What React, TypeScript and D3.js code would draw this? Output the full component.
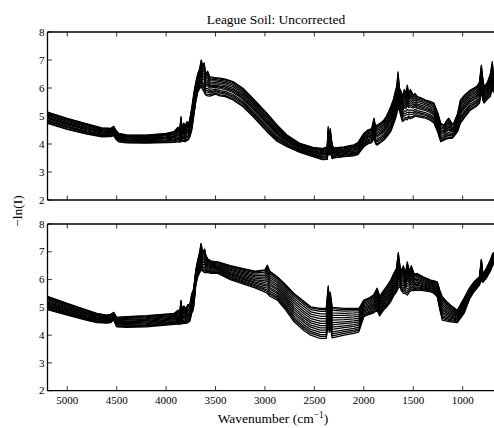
import React from "react";
import * as d3 from "d3";

// ---------- data ----------
const TITLE = "League Soil: Uncorrected";
const X_TICKS = [5000, 4500, 4000, 3500, 3000, 2500, 2000, 1500, 1000];
const Y_TICKS = [2, 3, 4, 5, 6, 7, 8];

// Top panel: wavenumber grid, upper and lower edge of the spectra bundle
const TOP_WN = [5200, 5000, 4800, 4650, 4560, 4530, 4510, 4480, 4400, 4200, 4000, 3920, 3880, 3860, 3850, 3840, 3820, 3810, 3790, 3775, 3760, 3740, 3720, 3700, 3680, 3660, 3645, 3630, 3615, 3600, 3580, 3556, 3500, 3455, 3400, 3323, 3222, 3121, 2980, 2878, 2777, 2646, 2514, 2420, 2370, 2360, 2350, 2340, 2320, 2300, 2200, 2100, 2060, 2000, 1960, 1920, 1897, 1880, 1867, 1830, 1796, 1770, 1728, 1700, 1680, 1665, 1654, 1640, 1625, 1610, 1590, 1575, 1560, 1545, 1530, 1500, 1480, 1459, 1420, 1374, 1330, 1290, 1250, 1222, 1189, 1160, 1140, 1110, 1090, 1050, 1023, 980, 922, 860, 830, 811, 795, 784, 750, 720, 700, 690, 650, 600];
const TOP_UPPER = [5.14, 4.92, 4.72, 4.58, 4.56, 4.63, 4.50, 4.38, 4.33, 4.32, 4.38, 4.44, 4.60, 4.55, 4.98, 4.60, 4.75, 4.60, 4.80, 4.70, 4.90, 5.30, 5.80, 6.20, 6.50, 6.70, 7.00, 6.80, 6.90, 6.50, 6.60, 6.40, 6.37, 6.35, 6.32, 6.23, 5.99, 5.63, 5.10, 4.68, 4.32, 4.02, 3.88, 3.84, 3.90, 4.62, 4.20, 4.55, 3.95, 3.86, 3.90, 3.97, 4.05, 4.38, 4.50, 4.55, 4.92, 4.60, 4.68, 4.75, 4.86, 5.00, 5.33, 5.60, 5.90, 6.10, 6.58, 6.00, 5.90, 5.69, 5.95, 5.80, 6.10, 5.80, 5.95, 5.75, 5.80, 5.69, 5.65, 5.57, 5.52, 5.46, 5.10, 4.74, 4.68, 4.85, 4.92, 4.75, 4.74, 5.10, 5.57, 5.75, 5.93, 6.05, 6.20, 6.82, 6.30, 6.05, 6.20, 6.50, 6.94, 6.50, 6.60, 6.70];
const TOP_LOWER = [4.74, 4.52, 4.35, 4.25, 4.26, 4.30, 4.18, 4.08, 4.04, 4.03, 4.05, 4.06, 4.08, 4.06, 4.20, 4.08, 4.10, 4.08, 4.12, 4.15, 4.25, 4.50, 5.00, 5.50, 5.85, 5.98, 6.05, 5.95, 5.85, 5.75, 5.72, 5.71, 5.78, 5.72, 5.69, 5.57, 5.33, 4.98, 4.44, 4.10, 3.90, 3.70, 3.55, 3.44, 3.45, 3.75, 3.60, 3.70, 3.48, 3.50, 3.55, 3.58, 3.62, 3.90, 4.00, 4.05, 4.20, 4.00, 3.96, 4.05, 4.14, 4.25, 4.44, 4.70, 4.90, 5.10, 5.30, 5.20, 5.00, 4.80, 4.85, 4.90, 4.86, 4.95, 4.90, 4.95, 5.00, 4.98, 4.95, 4.92, 4.85, 4.75, 4.40, 4.08, 4.14, 4.18, 4.20, 4.20, 4.26, 4.45, 4.74, 4.95, 5.21, 5.35, 5.45, 5.90, 5.55, 5.46, 5.60, 5.70, 6.00, 5.85, 5.90, 6.00];

// Bottom panel
const BOT_WN = [5200, 5000, 4800, 4700, 4600, 4560, 4530, 4500, 4400, 4200, 4000, 3920, 3880, 3860, 3850, 3840, 3820, 3800, 3780, 3760, 3740, 3725, 3710, 3700, 3680, 3660, 3647, 3630, 3610, 3600, 3580, 3540, 3476, 3350, 3185, 3100, 3000, 2976, 2950, 2875, 2800, 2706, 2600, 2537, 2440, 2380, 2360, 2350, 2340, 2320, 2200, 2100, 2050, 2000, 1940, 1900, 1866, 1840, 1800, 1760, 1728, 1700, 1670, 1651, 1635, 1620, 1600, 1580, 1560, 1540, 1520, 1490, 1459, 1400, 1324, 1290, 1257, 1230, 1206, 1160, 1121, 1054, 986, 930, 885, 830, 811, 795, 760, 720, 695, 650, 600];
const BOT_UPPER = [5.40, 5.14, 4.90, 4.78, 4.72, 4.75, 4.82, 4.64, 4.67, 4.70, 4.76, 4.78, 4.90, 4.85, 5.25, 4.95, 5.05, 4.95, 5.10, 5.10, 5.50, 5.62, 6.00, 6.34, 6.70, 7.00, 7.30, 7.00, 7.10, 6.90, 6.75, 6.66, 6.64, 6.50, 6.37, 6.30, 6.35, 6.52, 6.30, 6.10, 5.85, 5.50, 5.20, 5.02, 4.96, 4.96, 5.77, 5.30, 5.55, 5.00, 4.96, 4.96, 4.96, 5.26, 5.35, 5.45, 5.69, 5.40, 5.60, 5.80, 5.98, 6.20, 6.40, 6.97, 6.50, 6.30, 6.50, 6.20, 6.64, 6.30, 6.50, 6.20, 6.22, 6.10, 5.98, 5.95, 5.92, 5.60, 5.38, 5.20, 5.08, 4.90, 5.33, 5.70, 5.92, 6.10, 6.73, 6.20, 6.40, 6.70, 6.95, 7.00, 7.10];
const BOT_LOWER = [4.92, 4.72, 4.53, 4.45, 4.43, 4.45, 4.54, 4.30, 4.28, 4.30, 4.36, 4.39, 4.40, 4.38, 4.50, 4.40, 4.42, 4.42, 4.45, 4.50, 4.80, 4.90, 5.40, 5.80, 6.10, 6.25, 6.35, 6.30, 6.25, 6.25, 6.25, 6.22, 6.22, 6.00, 5.80, 5.70, 5.55, 5.50, 5.40, 5.26, 4.95, 4.48, 4.15, 4.00, 3.88, 3.88, 4.40, 4.10, 4.30, 3.90, 4.00, 4.06, 4.12, 4.66, 4.75, 4.80, 4.90, 4.69, 4.90, 5.05, 5.20, 5.40, 5.55, 5.70, 5.74, 5.60, 5.50, 5.50, 5.44, 5.55, 5.60, 5.60, 5.62, 5.60, 5.56, 5.50, 5.38, 4.90, 4.54, 4.50, 4.48, 4.45, 4.78, 5.30, 5.56, 5.80, 6.00, 5.90, 6.05, 6.30, 6.52, 6.60, 6.70];

// relative position of each measured spectrum inside the bundle
const TOP_SAMPLES = [0, 0.06, 0.15, 0.22, 0.3, 0.41, 0.48, 0.55, 0.63, 0.72, 0.8, 0.88, 0.95, 1];
const BOT_SAMPLES = [0, 0.07, 0.13, 0.2, 0.28, 0.35, 0.43, 0.5, 0.58, 0.66, 0.74, 0.82, 0.9, 0.96, 1];

// ---------- layout ----------
const WIDTH = 494;
const HEIGHT = 428;
const LEFT = 47.5;
const RIGHT = 502.2; // axis continues past the cropped edge
const PANELS = [
  { top: 32, bottom: 200, wn: TOP_WN, up: TOP_UPPER, lo: TOP_LOWER, samples: TOP_SAMPLES, showX: false },
  { top: 224, bottom: 390.7, wn: BOT_WN, up: BOT_UPPER, lo: BOT_LOWER, samples: BOT_SAMPLES, showX: true },
];
const FONT = "'Liberation Serif', 'Times New Roman', Times, serif";
const TICK = 4.5;

export default function App() {
  const x = d3.scaleLinear().domain([5200, 600]).range([LEFT, RIGHT]);
  const textStyle = { fontFamily: FONT };
  return (
    <svg
      width={WIDTH}
      height={HEIGHT}
      style={{ position: "absolute", left: 0, top: 0, background: "#fff" }}
    >
      <rect x={0} y={0} width={WIDTH} height={HEIGHT} fill="#fff" />
      {PANELS.map((p, pi) => {
        const y = d3.scaleLinear().domain([2, 8]).range([p.bottom, p.top]);
        const line = d3
          .line<number>()
          .x((_, i) => x(p.wn[i]))
          .y((v) => y(v));
        const clipId = `clip${pi}`;
        return (
          <g key={pi}>
            <defs>
              <clipPath id={clipId}>
                <rect x={LEFT} y={p.top} width={RIGHT - LEFT} height={p.bottom - p.top} />
              </clipPath>
            </defs>
            <g clipPath={`url(#${clipId})`}>
              {p.samples.map((w, si) => {
                const vals = p.wn.map((_, i) => p.lo[i] + w * (p.up[i] - p.lo[i]));
                return (
                  <path
                    key={si}
                    d={line(vals) || ""}
                    fill="none"
                    stroke="#000"
                    strokeWidth={1.25}
                    strokeLinejoin="round"
                  />
                );
              })}
            </g>
            {/* spines */}
            <line x1={LEFT} x2={RIGHT} y1={p.top} y2={p.top} stroke="#000" strokeWidth={1.3} />
            <line x1={LEFT} x2={RIGHT} y1={p.bottom} y2={p.bottom} stroke="#000" strokeWidth={1.3} />
            <line x1={LEFT} x2={LEFT} y1={p.top} y2={p.bottom} stroke="#000" strokeWidth={1.3} />
            {/* x ticks (inward, top and bottom) */}
            {X_TICKS.map((t) => (
              <g key={t}>
                <line x1={x(t)} x2={x(t)} y1={p.top} y2={p.top + TICK} stroke="#000" strokeWidth={0.8} />
                <line x1={x(t)} x2={x(t)} y1={p.bottom} y2={p.bottom - TICK} stroke="#000" strokeWidth={0.8} />
                {p.showX && (
                  <text x={x(t)} y={p.bottom + 13.5} fontSize={11} textAnchor="middle" fill="#000" style={textStyle}>
                    {t}
                  </text>
                )}
              </g>
            ))}
            {/* y ticks */}
            {Y_TICKS.map((t) => (
              <g key={t}>
                <line x1={LEFT} x2={LEFT + TICK} y1={y(t)} y2={y(t)} stroke="#000" strokeWidth={0.8} />
                <text x={LEFT - 3} y={y(t) + 3.7} fontSize={11} textAnchor="end" fill="#000" style={textStyle}>
                  {t}
                </text>
              </g>
            ))}
          </g>
        );
      })}
      <text x={276} y={24} fontSize={13.5} textAnchor="middle" fill="#000" style={textStyle}>
        {TITLE}
      </text>
      <text x={273} y={423} fontSize={13.5} textAnchor="middle" fill="#000" style={textStyle}>
        Wavenumber (cm
        <tspan dy={-5} fontSize={9.5}>
          −1
        </tspan>
        <tspan dy={5}>)</tspan>
      </text>
      <text
        transform="translate(22,211) rotate(-90)"
        fontSize={13.5}
        textAnchor="middle"
        fill="#000"
        style={textStyle}
      >
        −ln(I)
      </text>
    </svg>
  );
}
